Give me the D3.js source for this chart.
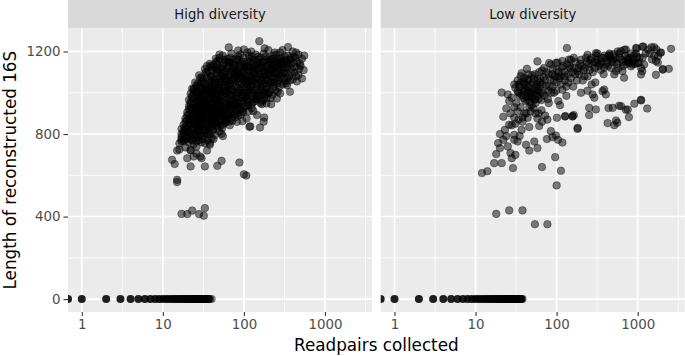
<!DOCTYPE html>
<html>
<head>
<meta charset="utf-8">
<script src="https://cdn.jsdelivr.net/npm/d3@7"></script>
<style>
  body { margin: 0; background: #fff; }
  svg { display: block; font-family: "DejaVu Sans", sans-serif; }
</style>
</head>
<body>
<svg id="chart" width="685" height="356"></svg>
<script>
// facets
let panels = ['High diversity', 'Low diversity'];

// [readpairs, length]
let highPts = [
  [155,1250],[65,1220],[50,1185],[35,1130],[100,1210],[123,1200],[200,1207],[350,1222],[440,1195],[555,1180],
  [545,1110],[450,1055],[370,1005],[217,945],[167,945],[131,911],[178,880],[175,860],[117,835],[96,862],
  [23,972],[24,1018],[17,824],[15,720],[13,675],[14,655],[22,643],[33,643],[47,646],[53,670],[88,662],
  [100,605],[107,599],[15,578],[15,567],[17,413],[20,412],[23,429],[28,412],[33,441],[32,404],
  [53,801],[38,748],[120,837],[158,832],
  [18,772],[22,724],[24,691],[29,691],[30,683],[20,683],[38,756],[26,705],[35,720],[42,775],[55,790],
  [300,1207],[280,1166],[410,1175],[490,1142],[470,1086],[520,1069],[340,1037],[280,997],[255,972],
  [190,948],[145,892],[108,875],[82,859],[67,843],[240,1195],[180,1215],[85,1205],
  [45,1165],[55,1180],[70,1190],[85,1175],[110,1195],[140,1185],[175,1190],[230,1180],[280,1195],[320,1175],[400,1200],[470,1185],
  [38,1140],[48,1155],[60,1150],[75,1160],[95,1150],[120,1165],[150,1145],[190,1160],[240,1150],[300,1155],[380,1140],[460,1150],[520,1165],
  [33,1115],[40,1125],[52,1120],[65,1130],[80,1115],[100,1125],[130,1120],[165,1130],[210,1115],[270,1125],[340,1120],[420,1100],[500,1130],
  [28,1085],[35,1095],[44,1090],[55,1080],[68,1100],[85,1090],[105,1080],[135,1095],[180,1085],[225,1100],[290,1090],[360,1080],
  [25,1050],[31,1065],[38,1060],[47,1070],[58,1055],[72,1060],[90,1070],[115,1055],[145,1065],[195,1060],[250,1070],[320,1055],[400,1065],
  [23,1020],[28,1035],[34,1030],[42,1025],[50,1040],[63,1030],[78,1035],[98,1025],[125,1040],[160,1030],[210,1035],[270,1025],
  [22,995],[26,1005],[31,1000],[37,1010],[45,995],[55,1005],[67,990],[83,1000],[105,1010],[135,995],[175,1005],[225,990],
  [21,965],[25,975],[29,970],[35,960],[41,975],[49,965],[60,980],[72,965],[90,975],[115,960],[145,970],[190,975],
  [21,935],[24,945],[28,940],[33,950],[39,930],[46,945],[54,935],[66,950],[80,940],[100,930],[125,945],[160,950],
  [20,905],[23,915],[27,910],[31,900],[36,920],[43,905],[51,915],[62,900],[75,910],[92,920],[115,910],
  [19,875],[22,885],[26,880],[30,870],[35,890],[41,875],[48,885],[58,870],[70,880],[85,890],
  [18,845],[21,855],[25,850],[28,840],[33,860],[38,845],[45,855],[55,845],[66,860],
  [18,815],[20,825],[23,820],[27,810],[31,830],[36,815],[42,825],[50,812],
  [17,785],[19,795],[22,790],[25,780],[29,800],[34,790],[40,780],
  [16,755],[18,765],[21,760],[24,750],[28,770],[33,755],
  [16,725],[19,735],[22,720],[26,740],
  [50,1170],[62,1165],[90,1185],[125,1175],[160,1170],[205,1170],[260,1160],[350,1180],
  [42,1135],[57,1140],[72,1145],[88,1135],[110,1140],[140,1135],[175,1145],[220,1135],[280,1140],[330,1140],[440,1125],
  [36,1105],[46,1100],[60,1105],[75,1095],[95,1105],[120,1100],[155,1105],[195,1110],[245,1100],[310,1105],[390,1115],
  [30,1075],[40,1075],[50,1065],[64,1075],[80,1080],[100,1060],[128,1075],[170,1075],[215,1080],[270,1060],[345,1070],
  [27,1045],[33,1045],[44,1050],[53,1050],[68,1045],[85,1050],[108,1045],[140,1050],[180,1045],[235,1045],[300,1040],
  [24,1015],[30,1020],[38,1020],[47,1015],[58,1020],[72,1015],[90,1015],[115,1020],[145,1015],[190,1020],[245,1010],
  [23,985],[28,990],[33,985],[40,990],[49,985],[60,995],[75,985],[95,990],[120,985],[155,985],[200,995],
  [22,955],[27,960],[31,955],[38,955],[44,960],[53,955],[65,960],[80,955],[100,960],[130,955],[165,960],
  [22,925],[26,930],[30,925],[36,935],[42,925],[50,930],[60,925],[72,930],[88,925],[108,935],
  [21,895],[25,895],[29,895],[33,905],[39,895],[46,900],[55,890],[67,895],[82,900],
  [20,865],[24,865],[28,860],[32,875],[37,865],[44,870],[52,865],[63,875],
  [19,835],[23,835],[26,830],[30,845],[35,835],[41,840],[48,830],
  [18,805],[21,805],[25,800],[28,815],[33,805],[38,800],
  [17,775],[20,775],[23,770],[27,785],[31,775],
  [46,1150],[58,1160],[68,1170],[80,1165],[98,1170],[115,1180],[132,1160],[150,1175],[185,1175],[215,1160],[250,1185],[290,1170],[330,1160],[375,1160],[430,1170],
  [39,1130],[47,1140],[55,1130],[66,1145],[78,1130],[92,1140],[105,1130],[118,1150],[135,1125],[158,1140],[185,1125],[230,1140],[260,1130],[300,1125],[360,1135],[410,1145],[480,1115],
  [34,1100],[41,1110],[49,1110],[57,1095],[70,1110],[82,1100],[98,1090],[112,1110],[140,1110],[165,1095],[200,1095],[235,1115],[265,1095],[330,1095],[380,1100],[440,1080],
  [29,1070],[35,1075],[43,1065],[52,1080],[61,1065],[76,1070],[94,1080],[110,1065],[132,1060],[158,1080],[185,1065],[230,1065],[280,1075],[310,1070],[370,1060],
  [26,1035],[30,1045],[36,1040],[40,1050],[48,1030],[56,1035],[66,1040],[82,1025],[95,1045],[118,1035],[150,1045],[170,1040],[220,1050],[260,1045],[330,1045],
  [25,1010],[29,1000],[34,1015],[41,1005],[52,1010],[61,1010],[70,1005],[88,1010],[110,1000],[128,1015],[160,1010],[210,1010],[260,1005],
  [23,980],[27,985],[32,975],[36,990],[43,980],[52,985],[63,970],[79,975],[98,975],[110,985],[140,980],[180,985],[215,975],
  [22,945],[26,950],[30,945],[35,945],[41,950],[48,955],[58,945],[70,940],[85,950],[110,950],[140,960],[175,965],
  [21,920],[24,920],[29,915],[34,925],[40,915],[47,920],[56,910],[68,920],[82,915],[98,905],[125,925],
  [20,890],[23,895],[27,890],[31,885],[37,880],[43,890],[50,895],[60,885],[76,895],[92,895],
  [19,860],[22,865],[26,865],[29,855],[34,850],[40,860],[48,860],[58,855],[72,865],
  [19,825],[21,840],[24,830],[28,825],[32,820],[39,830],[46,840],[54,830],
  [17,800],[20,810],[23,800],[26,795],[31,790],[36,800],[44,795],
  [17,765],[19,780],[22,775],[26,765],[30,760],[36,770],
  [27,1000],[30,1010],[33,995],[37,1025],[40,1040],[44,1015],[48,1050],[52,1000],[56,1070],[60,1040],
  [65,1085],[70,1020],[75,1060],[82,1100],[88,1040],[95,1070],[102,1110],[108,1030],[116,1085],[125,1060],
  [135,1115],[145,1040],[155,1090],[168,1120],[180,1060],[195,1095],[210,1140],[225,1075],[245,1125],[265,1110],
  [290,1150],[315,1120],
  [25,930],[28,955],[31,970],[34,935],[38,975],[42,945],[46,990],[50,960],[55,920],[60,1000],
  [66,930],[72,990],[78,945],[86,1000],[94,950],[104,985],[114,940],[122,1000],[135,970],[150,1000],
  [170,990],[190,1030],[205,1000],[235,1030],[260,1060],
  [22,870],[25,900],[28,875],[31,910],[34,880],[38,910],[42,860],[47,905],[52,880],[57,920],
  [63,890],[70,910],[78,880],[88,930],[96,910],
  [21,810],[24,850],[27,820],[30,860],[33,820],[37,850],[41,815],[46,850],[52,845],[60,860],
  [45,1125],[55,1115],[65,1150],[75,1135],[85,1160],[100,1150],[115,1125],[130,1145],[150,1160],[170,1150],
  [200,1150],[230,1165],[260,1145],[300,1145],[340,1150],[380,1170],
  [29,1025],[32,1055],[35,1010],[39,1080],[43,1040],[46,1110],[50,1020],[54,1095],[59,1075],[63,1120],
  [68,1060],[73,1120],[78,1095],[84,1070],[90,1125],[97,1100],[104,1060],[112,1130],[120,1080],[130,1100],
  [140,1075],[152,1120],[165,1060],[178,1105],[192,1130],[208,1090],[228,1120],[250,1095],[275,1140],[305,1095],
  [28,965],[32,940],[36,970],[40,1000],[45,970],[50,945],[55,985],[61,955],[67,1015],[74,950],
  [81,985],[90,960],[99,1000],[110,970],[122,1030],[135,1010],[150,985],[168,1020],[185,1000],[215,1050],
  [24,880],[27,925],[30,895],[33,930],[37,900],[41,935],[45,880],[50,915],[56,900],[64,940]
];

let lowPts = [
  [134,1217],[2580,1213],[1175,1224],[955,1217],[1600,1221],[1940,1195],[1770,1147],[2040,1115],[2420,1116],[1680,1087],
  [1100,966],[1310,924],[910,947],[780,882],[540,866],[426,853],[437,926],[590,937],[715,918],[181,825],
  [127,885],[157,885],[21,1001],[43,1116],[12,611],[14,620],[29,635],[66,640],[113,622],[96,688],
  [18,413],[26,430],[38,430],[54,363],[77,363],[100,551],
  [17,659],[21,659],[18,703],[20,732],[25,740],[27,708],[31,699],[28,683],
  [19,756],[22,772],[30,796],[30,772],[33,764],
  [42,748],[46,720],[58,732],[53,764],[76,776],[89,785],[104,772],[118,759],[98,793],
  [25,992],[28,976],[31,1024],[34,1040],[40,1073],[36,1081],
  [66,1108],[85,1137],[98,1145],[118,1154],[142,1161],[163,1170],
  [24,924],[22,884],[28,843],[34,870],[44,879],[58,875],
  [77,870],[101,879],[128,887],[163,892],[182,830],
  [46,834],[61,839],[85,814],
  [972,1215],[1140,1223],[1480,1221],[1700,1210],
  [1900,1194],[1790,1178],[1680,1154],[1500,1161],[2040,1112],[1100,1089],
  [715,1210],[620,1202],[510,1186],[445,1178],
  [790,1145],[870,1137],[1040,1145],[1200,1137],[1140,1105],
  [650,1105],[680,1073],[515,1089],[386,1121],[318,1145],
  [386,1016],[405,992],[369,1008],[278,992],[292,976],
  [491,927],[625,935],[755,919],[1100,963],[560,855],[515,843],[305,919],[252,927],[252,892],[157,887],
  [58,1152],[81,1144],[103,1147],[150,1160],[241,1184],[305,1192],[447,1184],[566,1200],[684,1208],[753,1160],[828,1128],[1000,1144],[1100,1120],
  [32,950],[35,985],[38,1010],[41,960],[44,1000],[47,1040],[50,975],[52,1020],[55,950],[58,1060],
  [40,1045],[45,1090],[36,1050],[49,940],[56,995],[62,1030],[65,965],[33,1005],[43,982],[46,982],
  [68,1000],[72,1060],[78,970],[82,1030],[88,1090],[93,1000],[100,1050],[105,960],[112,1080],[118,1015],
  [125,1100],[132,985],[140,1050],[148,1120],[102,1079],[70,1120],[90,1115],[80,950],[110,940],[135,1140],
  [160,1030],[170,1090],[181,1103],[195,1140],[210,1060],[225,1120],[241,1079],[260,1160],[280,1100],
  [300,1050],[330,1130],[360,1170],[380,1090],[200,1000],[240,1010],[310,1180],[350,1110],[270,1040],
  [420,1150],[470,1120],[500,1160],[560,1140],[600,1170],[660,1130],[700,1180],[760,1150],[820,1190],
  [880,1165],[930,1140],[980,1175],[540,1105],[450,1190],
  [20,800],[23,820],[26,845],[24,790],[31,850],[37,820],[35,790],[40,900],[38,860],[27,900],
  [30,930],[26,960],[48,910],[55,900],[65,915],[72,890],[66,860],
  [30,1040],[33,1060],[37,1095],[41,1020],[45,1060],[48,1000],[51,1050],[54,1090],[57,1010],[60,970],
  [63,1070],[67,1040],[71,985],[75,1100],[79,1010],[84,1065],[89,1030],[95,1080],[99,1010],[106,1100],
  [113,1040],[120,1130],[126,1060],[138,1090],[150,1070],[165,1120],[178,1060],[190,1090],[205,1130],[220,1080],
  [235,1150],[255,1110],[275,1140],[295,1120],[325,1160],[345,1140],[400,1170],[430,1130],[480,1150],[530,1170],
  [580,1120],[640,1160],[720,1140],[800,1170],[850,1150],[950,1190],[1050,1170],[1250,1190],[1350,1210],
  [30,880],[33,910],[36,930],[42,900],[46,930],[52,925],[60,900],[38,880],
  [34,1000],[39,975],[42,1035],[47,1005],[50,1085],[53,965],[56,1040],[61,1100],[64,1000],[69,1075],
  [74,1035],[80,1090],[86,1000],[92,1060],[100,1110],[108,1070],[116,1120],[124,1080],[132,1030],[144,1130],
  [155,1100],[172,1150],[186,1120],[200,1160],[215,1110],[230,1170],[250,1140],[270,1170],[290,1150],[320,1190],
  [355,1150],[390,1180],[410,1140],[460,1170],[520,1150],[590,1190],[650,1150],[740,1170],[900,1180],[1150,1170],
  [1400,1190],[1600,1180],
  [37,990],[40,1010],[43,965],[45,1025],[48,985],[51,1005],[54,970],[57,1030],[60,1010],[44,1065],
  [39,1055],[52,1070],[35,1030],[47,955],[58,985],[62,1050]
];

// samples with zero length: readpairs and how many overlap there
let highZero  = [0,1,2,3,4,5,6,7,8,9,10,11,12,13,14,15,16,17,18,19,20,21,22,23,24,25,26,27,28,29,30,31,32,33,34,35,36,37,38,40];
let highZeroN = [3,3,3,3,3,3,3,3,3,3,3,3,3,3,3,3,3,3,3,3,3,3,3,3,3,3,3,3,3,3,3,3,3,3,3,3,2,2,1,1];
let lowZero   = [0,1,2,3,4,5,6,7,8,9,10,11,12,13,14,15,16,17,18,19,20,21,22,23,24,25,26,27,28,29,30,31,32,33,34,35,36,37,38];
let lowZeroN  = [3,3,3,3,3,3,3,3,3,3,3,3,3,3,3,3,3,3,3,3,3,3,3,3,3,3,3,3,3,3,3,3,3,3,3,3,3,2,1];

let xTicks = [1, 10, 100, 1000];
let xMinor = [3.162, 31.62, 316.2, 3162];
let yTicks = [0, 400, 800, 1200];
let yMinor = [200, 600, 1000];

let svg = d3.select('#chart');

let panelTop = 28.3;
let panelBottom = 312;
let panelW = 304;
let panelLeft = [68, 380.7];

let y = d3.scaleLinear()
  .domain([-62.5, 1312.5])
  .range([panelBottom, panelTop]);

let sets = [
  { pts: highPts, zero: highZero, zeroN: highZeroN },
  { pts: lowPts, zero: lowZero, zeroN: lowZeroN }
];

panels.forEach((name, i) => {
  let left = panelLeft[i];
  let x = d3.scaleLog()
    .domain([Math.pow(10, -0.17), Math.pow(10, 3.58)])
    .range([left, left + panelW]);
  // zero readpairs sit on the panel edge, like -Inf in ggplot
  let xp = v => v > 0 ? x(v) : left;

  // strip
  svg.append('rect')
    .attr('x', left).attr('y', 0)
    .attr('width', panelW).attr('height', panelTop)
    .attr('fill', '#d9d9d9');
  svg.append('text')
    .attr('x', left + panelW / 2).attr('y', 18.8)
    .attr('text-anchor', 'middle')
    .attr('font-size', 13.2)
    .attr('fill', '#1a1a1a')
    .text(name);

  // panel
  svg.append('rect')
    .attr('x', left).attr('y', panelTop)
    .attr('width', panelW).attr('height', panelBottom - panelTop)
    .attr('fill', '#ebebeb');

  let clipId = 'clip' + i;
  svg.append('clipPath').attr('id', clipId)
    .append('rect')
    .attr('x', left).attr('y', panelTop)
    .attr('width', panelW).attr('height', panelBottom - panelTop);

  let g = svg.append('g').attr('clip-path', 'url(#' + clipId + ')');

  g.selectAll('.ymin').data(yMinor).enter().append('line')
    .attr('x1', left).attr('x2', left + panelW)
    .attr('y1', d => y(d)).attr('y2', d => y(d))
    .attr('stroke', '#fff').attr('stroke-width', 0.8);
  g.selectAll('.xmin').data(xMinor).enter().append('line')
    .attr('x1', d => x(d)).attr('x2', d => x(d))
    .attr('y1', panelTop).attr('y2', panelBottom)
    .attr('stroke', '#fff').attr('stroke-width', 0.8);
  g.selectAll('.ymaj').data(yTicks).enter().append('line')
    .attr('x1', left).attr('x2', left + panelW)
    .attr('y1', d => y(d)).attr('y2', d => y(d))
    .attr('stroke', '#fff').attr('stroke-width', 1.6);
  g.selectAll('.xmaj').data(xTicks).enter().append('line')
    .attr('x1', d => x(d)).attr('x2', d => x(d))
    .attr('y1', panelTop).attr('y2', panelBottom)
    .attr('stroke', '#fff').attr('stroke-width', 1.6);

  let set = sets[i];

  g.selectAll('.pt').data(set.pts).enter().append('circle')
    .attr('cx', d => xp(d[0]))
    .attr('cy', d => y(d[1]))
    .attr('r', 3.8)
    .attr('fill', '#000').attr('fill-opacity', 0.5)
    .attr('stroke', '#000').attr('stroke-opacity', 0.45)
    .attr('stroke-width', 0.8);

  g.selectAll('.zero').data(set.zero).enter().append('circle')
    .attr('cx', d => xp(d))
    .attr('cy', y(0))
    .attr('r', 4)
    .attr('fill', '#000')
    .attr('fill-opacity', (d, k) => 1 - Math.pow(0.5, set.zeroN[k]));

  // x axis
  let xAxis = svg.append('g')
    .attr('transform', 'translate(0,' + panelBottom + ')')
    .call(d3.axisBottom(x).tickValues(xTicks).tickFormat(d3.format('d')).tickSize(4).tickPadding(3));
  xAxis.select('.domain').remove();
  xAxis.selectAll('line').attr('stroke', '#333').attr('stroke-width', 1.1);
  xAxis.selectAll('text')
    .attr('font-family', '"DejaVu Sans", sans-serif')
    .attr('font-size', 13.4)
    .attr('fill', '#4d4d4d');
});

// y axis (left panel only)
let yAxis = svg.append('g')
  .attr('transform', 'translate(' + panelLeft[0] + ',0)')
  .call(d3.axisLeft(y).tickValues(yTicks).tickFormat(d3.format('d')).tickSize(4.5).tickPadding(3));
yAxis.select('.domain').remove();
yAxis.selectAll('line').attr('stroke', '#333').attr('stroke-width', 1.1);
yAxis.selectAll('text')
  .attr('font-family', '"DejaVu Sans", sans-serif')
  .attr('font-size', 13.4)
  .attr('fill', '#4d4d4d');

// axis titles
svg.append('text')
  .attr('x', (panelLeft[0] + panelLeft[1] + panelW) / 2)
  .attr('y', 351)
  .attr('text-anchor', 'middle')
  .attr('font-size', 16.8)
  .attr('fill', '#000')
  .text('Readpairs collected');

svg.append('text')
  .attr('transform', 'translate(16,' + (panelTop + panelBottom) / 2 + ') rotate(-90)')
  .attr('text-anchor', 'middle')
  .attr('font-size', 16.8)
  .attr('fill', '#000')
  .text('Length of reconstructed 16S');
</script>
</body>
</html>
